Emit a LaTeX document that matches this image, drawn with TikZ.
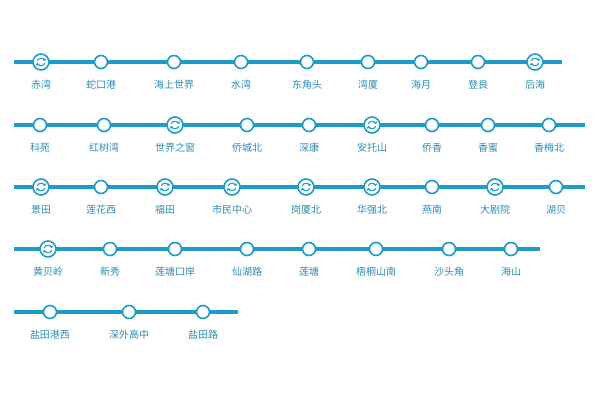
\documentclass[tikz,border=0pt]{standalone}
\usepackage{fontspec}
\newfontfamily\cjk{Noto Sans CJK SC}
\usetikzlibrary{arrows.meta}
\definecolor{ln}{HTML}{1E9CC8}
\definecolor{tx}{HTML}{2A8DB5}
\tikzset{
 st/.style={circle,draw=ln,line width=1.6pt,fill=white,minimum size=13pt,inner sep=0pt},
 xst/.style={st,minimum size=16pt},
 lab/.style={text=tx,font=\cjk\fontsize{10}{12}\selectfont},
 rail/.style={ln,line width=4pt}
}
\newcommand{\xchg}[1]{\draw[ln,line width=1pt,-{Straight Barb[length=1.5pt]}] (#1)++(3.8pt,-1.2pt) arc (-20:-165:4pt);
 \draw[ln,line width=1pt,-{Straight Barb[length=1.5pt]}] (#1)++(-3.8pt,1.2pt) arc (160:15:4pt);}
\begin{document}
\begin{tikzpicture}[x=1pt,y=-1pt]
\useasboundingbox (0,0) rectangle (600,400);
\def\row#1#2#3#4{%
 \coordinate (s#1) at (14,#2); \coordinate (e#1) at (#3,#2);
 \draw[rail] (s#1)--(e#1);
 \foreach \x/\n/\t[count=\i] in {#4}{
   \ifnum\t=1 \node[xst] (n#1-\i) at (\x,#2) {}; \xchg{n#1-\i}
   \else \node[st] (n#1-\i) at (\x,#2) {}; \fi
   \node[lab] (l#1-\i) at (\x,#2+23) {\n};
 }}
\row{1}{62}{562}{41/赤湾/1,101/蛇口港/0,174/海上世界/0,241/水湾/0,307/东角头/0,368/湾厦/0,421/海月/0,478/登良/0,535/后海/1}
\row{2}{125}{585}{40/科苑/0,104/红树湾/0,175/世界之窗/1,247/侨城北/0,309/深康/0,372/安托山/1,432/侨香/0,488/香蜜/0,549/香梅北/0}
\row{3}{187}{585}{41/景田/1,101/莲花西/0,165/福田/1,232/市民中心/1,306/岗厦北/1,372/华强北/1,432/燕南/0,495/大剧院/1,556/湖贝/0}
\row{4}{249}{540}{48/黄贝岭/1,110/新秀/0,175/莲塘口岸/0,247/仙湖路/0,309/莲塘/0,376/梧桐山南/0,449/沙头角/0,511/海山/0}
\row{5}{312}{238}{50/盐田港西/0,129/深外高中/0,203/盐田路/0}
\end{tikzpicture}
\end{document}
